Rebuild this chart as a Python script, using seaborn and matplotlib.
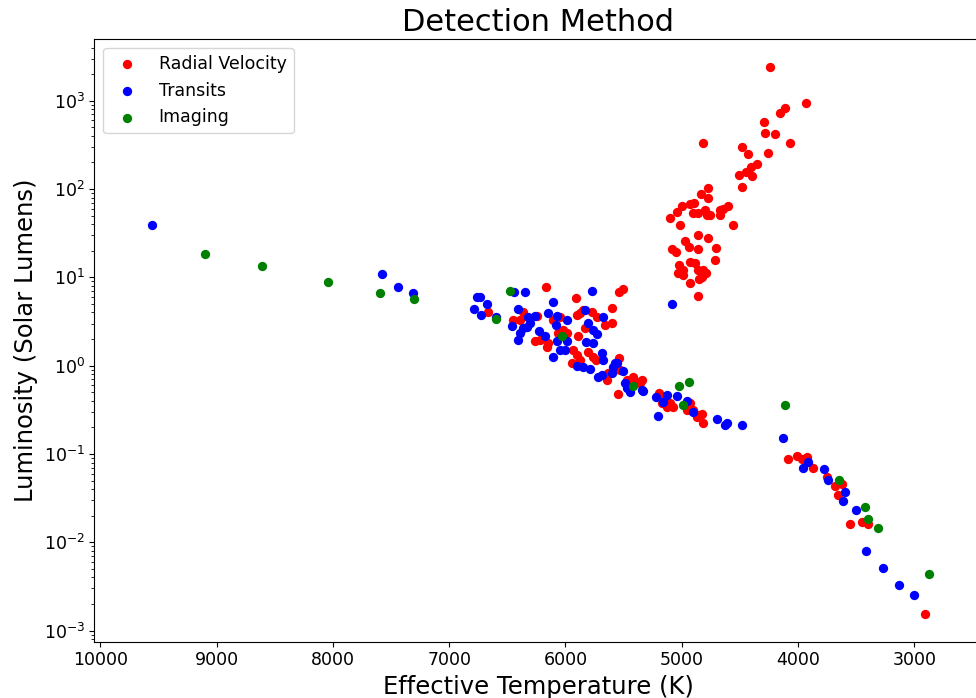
import matplotlib
matplotlib.use("Agg")
import matplotlib.pyplot as plt
import seaborn as sns
import pandas as pd

# Radial Velocity
rv_temp = [4241, 3935, 4112, 4155, 4293, 4284, 4198, 4069, 4814, 4485, 4433, 4261,
           4356, 4407, 4448, 4505, 4399, 4482, 4771, 4835, 4777, 4600, 4929, 4892,
           5001, 5044, 5101, 4900, 4857, 4800, 4786, 4757, 4671, 4671, 4643, 5015,
           4557, 4857, 4777, 4972, 4935, 5081, 5049, 4863, 4706, 4714, 4929, 4886,
           5021, 4986, 5029, 4992, 4857, 4814, 4792, 4829, 4849, 4929, 4857,
           6663, 6168, 5912, 5537, 5508, 5603, 6448, 6391, 6362, 6248, 6262, 6219,
           6156, 6148, 6105, 6047, 6019, 5990, 6062, 5890, 5904, 5875, 5832, 5847,
           5775, 5732, 5804, 5933, 5904, 5947, 5875, 5761, 5738, 5660, 5603, 5632,
           5646, 5537, 5531, 5546, 5417, 5388, 5345, 5359, 5474, 5193, 5173, 5101,
           5073, 4929, 4901, 4858, 4829, 4815, 4872, 4958, 5130, 5144,
           4084, 4007, 3970, 3927, 3869, 3755, 3683, 3626, 3655, 3554, 3454, 3397, 2909]
rv_lum = [2430, 933, 818, 719, 578, 427, 416, 329, 335, 301, 247, 258,
          192, 176, 157, 144, 140, 106, 102, 87.1, 78.3, 64.7, 67.1, 68.9,
          64.3, 55.3, 47.3, 53.1, 53.1, 57.8, 50.8, 50.8, 57.8, 50.8, 58.9, 39.1,
          38.8, 30.1, 28.1, 25.8, 22.2, 20.7, 19.2, 20.7, 21.3, 15.7, 15.0, 14.4,
          13.8, 12.1, 11.1, 10.6, 12.1, 12.1, 11.1, 10.0, 9.48, 8.55, 6.15,
          4.08, 7.83, 5.78, 6.89, 7.31, 4.54, 3.29, 3.29, 4.08, 3.65, 1.92, 1.95,
          1.64, 1.79, 3.29, 3.59, 2.54, 2.32, 2.32, 2.17, 3.75, 3.91, 2.65, 4.27,
          4.08, 3.59, 1.44, 1.50, 1.32, 1.06, 1.16, 1.26, 1.16, 2.88, 3.01, 0.818,
          0.689, 1.21, 0.893, 0.478, 0.750, 0.659, 0.689, 0.631, 0.689, 0.494, 0.381, 0.374,
          0.344, 0.374, 0.315, 0.276, 0.284, 0.226, 0.264, 0.315, 0.344, 0.446,
          0.0871, 0.0957, 0.0879, 0.0916, 0.0700, 0.0555, 0.0435, 0.0457, 0.0344,
          0.0160, 0.0169, 0.0160, 0.00153]

# Transits
tr_temp = [9553, 7575, 7438, 7309, 6764, 6735, 6787, 6729, 6678, 6597, 6440, 6348,
           5775, 5680, 5087, 6405, 6319, 6262, 6305, 6362, 6334, 6391, 6405, 6463,
           6228, 6176, 6148, 6110, 6076, 6082, 5990, 5984, 6076, 6047, 6004, 6105,
           5832, 5809, 5761, 5732, 5766, 5824, 5847, 5898, 5789, 5689, 5675, 5718,
           5689, 5603, 5589, 5574, 5560, 5503, 5488, 5474, 5445, 5345, 5331, 5225,
           5159, 5130, 5044, 4958, 4907, 5202, 4700, 4629, 4614, 4485,
           4127, 3912, 3955, 3775, 3740, 3597, 3617, 3503, 3417, 3268, 3130, 3004]
tr_lum = [38.8, 11.0, 7.83, 6.70, 5.94, 5.94, 4.38, 3.75, 4.99, 3.59, 6.76, 6.76,
          7.06, 3.59, 4.94, 4.38, 3.59, 3.68, 3.01, 2.65, 2.76, 2.32, 1.95, 2.81,
          2.47, 2.19, 3.98, 5.30, 3.65, 2.88, 3.29, 1.92, 1.92, 1.50, 1.50, 1.24,
          4.27, 3.07, 2.54, 2.26, 1.79, 1.87, 0.975, 1.00, 0.908, 1.40, 1.16, 0.738,
          0.783, 0.818, 0.975, 1.06, 1.08, 0.877, 0.631, 0.553, 0.508, 0.530, 0.521, 0.446,
          0.391, 0.466, 0.457, 0.398, 0.301, 0.269, 0.249, 0.213, 0.222, 0.213,
          0.151, 0.0818, 0.0689, 0.0671, 0.0508, 0.0375, 0.0294, 0.0232, 0.00805,
          0.00516, 0.00329, 0.00254]

# Imaging
im_temp = [9100, 8612, 8040, 7595, 7300, 6477, 6600, 6033, 5417, 5024, 4938, 4993,
           4113, 3649, 3425, 3397, 3311, 2875]
im_lum = [18.4, 13.5, 8.79, 6.61, 5.65, 7.06, 3.37, 2.17, 0.593, 0.593, 0.659, 0.359,
          0.359, 0.0508, 0.0249, 0.0182, 0.0144, 0.00439]

methods = ["Radial Velocity", "Transits", "Imaging"]
colors = ["red", "blue", "green"]

df = pd.concat([
    pd.DataFrame({"temp": rv_temp, "lum": rv_lum, "method": methods[0]}),
    pd.DataFrame({"temp": tr_temp, "lum": tr_lum, "method": methods[1]}),
    pd.DataFrame({"temp": im_temp, "lum": im_lum, "method": methods[2]}),
], ignore_index=True)

plt.rcParams["font.family"] = ["DejaVu Sans"]
fig = plt.figure(figsize=(9.76, 6.98), dpi=100)
ax = fig.add_axes([0.0968, 0.0807, 0.9088, 0.863])

for m, c in zip(methods, colors):
    sub = df[df["method"] == m]
    sns.scatterplot(data=sub, x="temp", y="lum", color=c, s=45, linewidth=0,
                    label=m, ax=ax)

ax.set_yscale("log")
ax.set_xlim(10050, 2423)
ax.set_ylim(10 ** -3.125, 10 ** 3.695)
ax.set_title("Detection Method", fontsize=22)
ax.set_xlabel("Effective Temperature (K)", fontsize=17.5)
ax.set_ylabel("Luminosity (Solar Lumens)", fontsize=17.5)
ax.tick_params(labelsize=12.5)
ax.legend(loc="upper left", fontsize=12.5)

fig.savefig("out.png", dpi=100)
